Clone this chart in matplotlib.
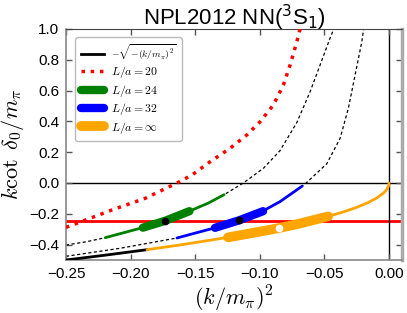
import matplotlib
matplotlib.use("Agg")
import matplotlib.pyplot as plt

plt.rcParams['font.family'] = ['Liberation Sans', 'DejaVu Sans']
plt.rcParams['mathtext.fontset'] = 'cm'

# values
red20_x = [-0.25, -0.2363, -0.2144, -0.1886, -0.1641, -0.1525, -0.1385, -0.1231,
           -0.1101, -0.0998, -0.0896, -0.0818, -0.0766, -0.0714, -0.0689]
red20_y = [-0.288, -0.245, -0.175, -0.099, 0.0, 0.052, 0.138, 0.225,
           0.312, 0.398, 0.506, 0.636, 0.766, 0.917, 1.0]

dash24_x = [-0.25, -0.234, -0.2196, -0.1899, -0.1731, -0.1538, -0.140, -0.1277,
            -0.1128, -0.0973, -0.0844, -0.0714, -0.0611, -0.0534, -0.0457, -0.0428]
dash24_y = [-0.403, -0.381, -0.355, -0.288, -0.245, -0.180, -0.131, -0.076,
            0.0, 0.095, 0.210, 0.392, 0.593, 0.766, 0.94, 1.0]

dash32_x = [-0.25, -0.2082, -0.1641, -0.1334, -0.1159, -0.0985, -0.0844, -0.0672,
            -0.0642, -0.0482, -0.0379, -0.0315, -0.0263, -0.0211, -0.0197]
dash32_y = [-0.476, -0.424, -0.357, -0.288, -0.242, -0.186, -0.121, -0.020,
            0.0, 0.125, 0.290, 0.485, 0.701, 0.917, 1.0]

green_x = [-0.2196, -0.1899, -0.1731, -0.1538, -0.140, -0.1277]
green_y = [-0.355, -0.288, -0.245, -0.180, -0.131, -0.076]
green_thick_x = [-0.1905, -0.1731, -0.1545]
green_thick_y = [-0.290, -0.245, -0.183]

blue_x = [-0.1641, -0.1334, -0.1159, -0.0985, -0.0844, -0.0672]
blue_y = [-0.357, -0.288, -0.242, -0.186, -0.121, -0.020]
blue_thick_x = [-0.1347, -0.1159, -0.0975]
blue_thick_y = [-0.291, -0.242, -0.183]

black_x = [-0.25, -0.22, -0.1873]
black_y = [-0.5, -0.469, -0.433]

orange_x = [-0.1873, -0.16, -0.1246, -0.1, -0.085, -0.07, -0.0472, -0.035,
            -0.025, -0.016, -0.009, -0.004, -0.0015, -0.0003, 0.0]
orange_y = [-0.433, -0.4, -0.353, -0.316, -0.292, -0.265, -0.217, -0.187,
            -0.158, -0.126, -0.095, -0.063, -0.039, -0.017, 0.0]
orange_thick_x = [-0.1246, -0.1, -0.085, -0.07, -0.0472]
orange_thick_y = [-0.353, -0.316, -0.292, -0.265, -0.217]

dots_x = [-0.1731, -0.1159]
dots_y = [-0.245, -0.242]
inf_dot = (-0.0851, -0.292)
red_level = -0.244

fig = plt.figure(figsize=(4.07, 3.13), dpi=100)
ax = fig.add_axes([66/407, 1-260/313, 336/407, 231/313])

ax.axhline(red_level, color='red', lw=2, zorder=1)
ax.axhline(0, color='black', lw=1, zorder=1)
ax.axvline(0, color='black', lw=1, zorder=1)

ax.plot(dash24_x, dash24_y, 'k--', lw=0.9, dashes=(2.5, 2), zorder=2)
ax.plot(dash32_x, dash32_y, 'k--', lw=0.9, dashes=(2.5, 2), zorder=2)

ax.plot(black_x, black_y, color='black', lw=2, zorder=3,
        label=r'$-\sqrt{-(k/m_\pi)^2}$')
ax.plot(red20_x, red20_y, color='red', ls=':', lw=2.5, zorder=3, label=r'$L/a=20$')

ax.plot(green_x, green_y, color='green', lw=2, solid_capstyle='round', zorder=3)
ax.plot(green_thick_x, green_thick_y, color='green', lw=6, solid_capstyle='round',
        zorder=4, label=r'$L/a=24$')
ax.plot(blue_x, blue_y, color='blue', lw=2, solid_capstyle='round', zorder=3)
ax.plot(blue_thick_x, blue_thick_y, color='blue', lw=6, solid_capstyle='round',
        zorder=4, label=r'$L/a=32$')
ax.plot(orange_x, orange_y, color='orange', lw=2, solid_capstyle='round', zorder=3)
ax.plot(orange_thick_x, orange_thick_y, color='orange', lw=7, solid_capstyle='round',
        zorder=4, label=r'$L/a=\infty$')

ax.plot(dots_x, dots_y, 'o', color='black', ms=4.5, zorder=5)
ax.plot([inf_dot[0]], [inf_dot[1]], 'o', color='white', ms=4.5, zorder=5)

ax.set_xlim(-0.25, 0.01)
ax.set_ylim(-0.5, 1.0)
ax.set_xticks([-0.25, -0.20, -0.15, -0.10, -0.05, 0.00])
ax.set_yticks([-0.4, -0.2, 0.0, 0.2, 0.4, 0.6, 0.8, 1.0])
ax.tick_params(direction='in', top=True, right=True, length=4, width=1,
               color='#555555', labelsize=11, pad=5)

for side in ['left', 'bottom']:
    ax.spines[side].set_color('#888888')
    ax.spines[side].set_linewidth(1.2)
ax.spines['top'].set_color('#444444')
ax.spines['right'].set_color('#aaaaaa')
ax.spines['right'].set_linewidth(2.5)

ax.set_xlabel(r'$(k/m_\pi)^2$', fontsize=16, labelpad=2)
ax.set_ylabel(r'$k\cot\ \delta_0/m_\pi$', fontsize=16, labelpad=2)
ax.set_title(r'NPL2012 NN($^3$S$_1$)', fontsize=16, pad=3,
             math_fontfamily='dejavusans')

leg = ax.legend(loc='upper left', fontsize=8.5, handlelength=2.0, borderpad=0.45,
                labelspacing=0.2, handletextpad=0.6, fancybox=True, framealpha=1,
                bbox_to_anchor=(0.01, 0.99))
leg.get_texts()[0].set_fontsize(7)
leg.get_frame().set_edgecolor('#bbbbbb')

fig.savefig('out.png', dpi=100)
